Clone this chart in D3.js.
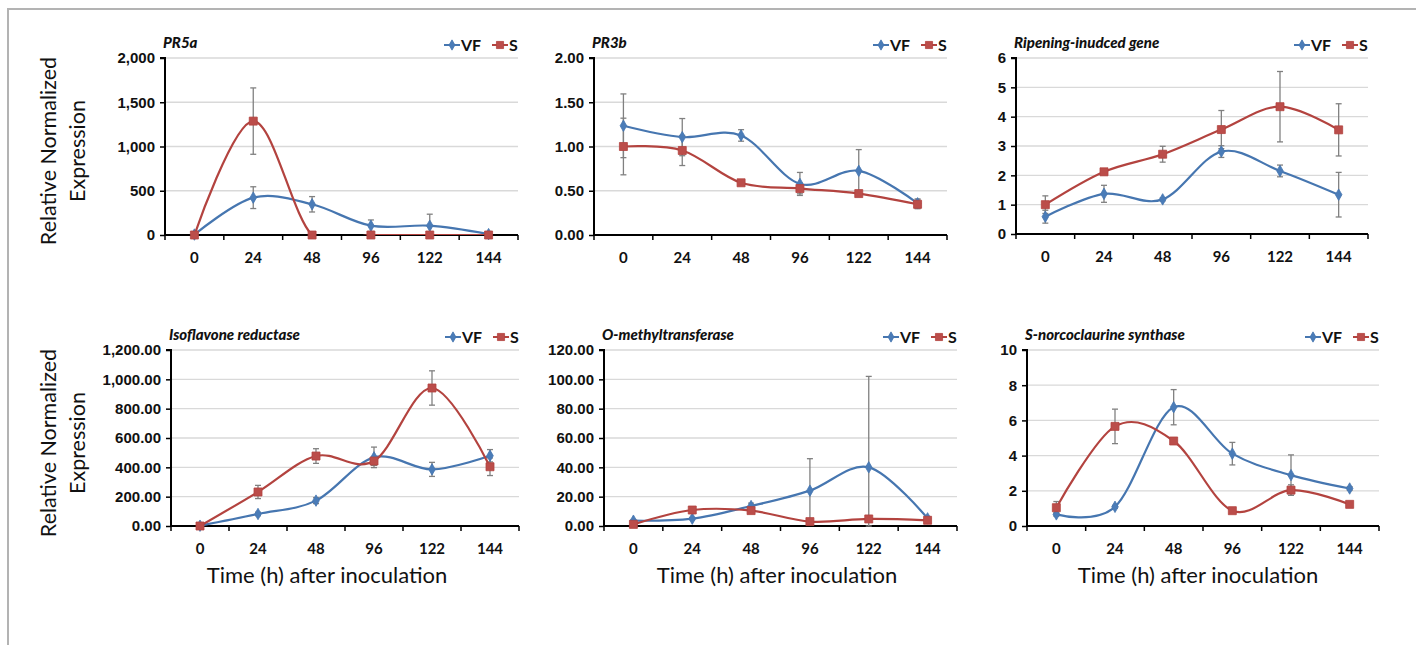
<!DOCTYPE html>
<html>
<head>
<meta charset="utf-8">
<script src="https://cdn.jsdelivr.net/npm/d3@7"></script>
<style>
  body { margin: 0; background: #fff; }
  svg { display: block; font-family: Lato, "Open Sans", sans-serif; }
</style>
</head>
<body>
<svg id="chart" width="1416" height="645"></svg>
<script>
// time points (h after inoculation)
const times = ['0', '24', '48', '96', '122', '144']
const titles = ['PR5a', 'PR3b', 'Ripening-inudced gene', 'Isoflavone reductase', 'O-methyltransferase', 'S-norcoclaurine synthase']

// VF series and its error
const vf = [
  [5, 422, 347, 105, 105, 10],
  [1.234, 1.106, 1.125, 0.577, 0.725, 0.358],
  [0.59, 1.37, 1.18, 2.81, 2.15, 1.34],
  [2, 82, 173, 468, 386, 479],
  [3.6, 5.0, 13.6, 24.1, 40.0, 5.2],
  [0.66, 1.09, 6.75, 4.11, 2.89, 2.13]
]
const vfErr = [
  [5, 123, 87, 65, 130, 8],
  [0.36, 0.21, 0.065, 0.13, 0.24, 0.05],
  [0.22, 0.29, 0.05, 0.2, 0.2, 0.76],
  [3, 12, 20, 70, 48, 42],
  [0.8, 0.8, 2, 21.8, 62, 1],
  [0.1, 0.08, 1.0, 0.64, 1.15, 0.1]
]
// S series and its error
const sv = [
  [0, 1287, 0, 0, 0, 0],
  [1.0, 0.955, 0.59, 0.525, 0.468, 0.347],
  [1.0, 2.12, 2.72, 3.56, 4.34, 3.55],
  [0, 232, 477, 443, 941, 404],
  [1.1, 10.9, 10.5, 3.0, 4.8, 3.9],
  [1.04, 5.66, 4.83, 0.87, 2.04, 1.23]
]
const sErr = [
  [2, 375, 3, 3, 3, 3],
  [0.32, 0.17, 0.03, 0.06, 0.03, 0.05],
  [0.3, 0.1, 0.27, 0.65, 1.2, 0.89],
  [3, 45, 50, 30, 117, 60],
  [0.5, 0.8, 0.8, 0.5, 0.5, 0.5],
  [0.35, 0.98, 0.1, 0.08, 0.3, 0.1]
]
// y axis max, tick step, tick format
const yMax = [2000, 2, 6, 1200, 120, 10]
const yStep = [500, 0.5, 1, 200, 20, 2]
const yFmt = [',.0f', '.2f', 'd', ',.2f', '.2f', 'd']

// plot boxes [left, right, top, bottom]
const boxes = [
  [165, 518, 58, 235], [594, 947, 58, 235], [1016, 1368, 58, 234],
  [171, 519, 350, 526], [604, 957, 350, 526], [1027, 1379, 350, 526]
]

const blue = '#4676b0', blueFill = '#4a7cb8'
const red = '#b3433f', redFill = '#bb4d4a'

const svg = d3.select('#chart')
const defs = svg.append('defs')

// outer frame (top and left)
svg.append('path')
  .attr('d', 'M8,645 L8,9 L1416,9')
  .attr('fill', 'none')
  .attr('stroke', '#b3b3b3')
  .attr('stroke-width', 2)

boxes.forEach(function (b, i) {
  const x = d3.scaleBand().domain(times).range([b[0], b[1]])
  const y = d3.scaleLinear().domain([0, yMax[i]]).range([b[3], b[2]])
  const ticks = d3.range(0, yMax[i] + yStep[i] / 2, yStep[i])
  const g = svg.append('g')

  // keep smoothed lines inside the plot
  defs.append('clipPath').attr('id', 'clip' + i)
    .append('rect').attr('x', b[0]).attr('y', b[2] - 20).attr('width', b[1] - b[0]).attr('height', b[3] - b[2] + 20)

  // gridlines
  g.selectAll('.grid').data(ticks.slice(1)).join('line')
    .attr('x1', b[0]).attr('x2', b[1])
    .attr('y1', d => y(d)).attr('y2', d => y(d))
    .attr('stroke', '#d9d9d9').attr('stroke-width', 1.3)

  // y axis
  const ya = g.append('g')
    .attr('transform', `translate(${b[0]},0)`)
    .call(d3.axisLeft(y).tickValues(ticks).tickFormat(d3.format(yFmt[i])).tickSize(5).tickPadding(5))
  ya.select('.domain').attr('stroke-width', 2).attr('d', `M-5,${b[2]}H0V${b[3]}`)
  ya.selectAll('.tick line').attr('stroke-width', 1.5)
  ya.selectAll('text').attr('font-size', 15).attr('font-weight', 700).attr('fill', '#111')

  // x axis
  const xa = g.append('g').attr('transform', `translate(0,${b[3]})`)
  xa.append('path').attr('d', `M${b[0]},0H${b[1]}`).attr('stroke', '#000').attr('stroke-width', 2)
  xa.selectAll('.xt').data(d3.range(times.length + 1)).join('line')
    .attr('x1', k => b[0] + k * x.bandwidth()).attr('x2', k => b[0] + k * x.bandwidth())
    .attr('y1', 0).attr('y2', 5).attr('stroke', '#000').attr('stroke-width', 1.5)
  xa.selectAll('.xl').data(times).join('text')
    .attr('x', d => x(d) + x.bandwidth() / 2).attr('y', 28)
    .attr('text-anchor', 'middle').attr('font-size', 15).attr('font-weight', 700).attr('fill', '#111')
    .text(d => d)

  // title
  g.append('text')
    .attr('x', b[0] - 2).attr('y', b[2] - 10)
    .attr('font-size', 15).attr('font-weight', 900).attr('font-style', 'italic').attr('fill', '#111')
    .text(titles[i])

  const cx = d => x(d) + x.bandwidth() / 2
  const line = d3.line().x((d, k) => cx(times[k])).y(d => y(d)).curve(d3.curveCardinal.tension(0))

  const series = [
    { vals: vf[i], err: vfErr[i], col: blue, fill: blueFill, shape: d3.symbolDiamond, size: 38 },
    { vals: sv[i], err: sErr[i], col: red, fill: redFill, shape: d3.symbolSquare, size: 64 }
  ]

  // error bars
  series.forEach(function (s) {
    s.vals.forEach(function (v, k) {
      const px = cx(times[k])
      const lo = y(Math.max(0, v - s.err[k])), hi = y(v + s.err[k])
      g.append('line').attr('x1', px).attr('x2', px).attr('y1', lo).attr('y2', hi)
        .attr('stroke', '#808080').attr('stroke-width', 1.3)
      ;[lo, hi].forEach(yy => g.append('line')
        .attr('x1', px - 3).attr('x2', px + 3).attr('y1', yy).attr('y2', yy)
        .attr('stroke', '#808080').attr('stroke-width', 1.3))
    })
  })

  // lines and markers
  series.forEach(function (s) {
    g.append('path').datum(s.vals).attr('d', line)
      .attr('clip-path', `url(#clip${i})`)
      .attr('fill', 'none').attr('stroke', s.col).attr('stroke-width', 2.2)
    g.selectAll(null).data(s.vals).join('path')
      .attr('transform', (d, k) => `translate(${cx(times[k])},${y(d)})`)
      .attr('d', d3.symbol().type(s.shape).size(s.size))
      .attr('fill', s.fill).attr('stroke', s.col).attr('stroke-width', 0.8)
  })

  // legend
  const lg = g.append('g').attr('transform', `translate(${b[1] - 74},${b[2] - 13})`)
  const items = [{ name: 'VF', s: series[0], dx: 0 }, { name: 'S', s: series[1], dx: 48 }]
  items.forEach(function (it) {
    lg.append('line').attr('x1', it.dx).attr('x2', it.dx + 16).attr('y1', 0).attr('y2', 0)
      .attr('stroke', it.s.col).attr('stroke-width', 2)
    lg.append('path').attr('transform', `translate(${it.dx + 8},0)`)
      .attr('d', d3.symbol().type(it.s.shape).size(it.s.size * 0.8))
      .attr('fill', it.s.fill).attr('stroke', it.s.col).attr('stroke-width', 0.8)
    lg.append('text').attr('x', it.dx + 17).attr('y', 6)
      .attr('font-size', 16).attr('font-weight', 700).attr('fill', '#111').text(it.name)
  })
})

// shared axis titles
;[151, 443].forEach(function (cy) {
  const t = svg.append('text')
    .attr('transform', `translate(56,${cy}) rotate(-90)`)
    .attr('text-anchor', 'middle').attr('font-size', 21.5).attr('fill', '#111')
  t.append('tspan').attr('x', 0).attr('dy', 0).text('Relative Normalized')
  t.append('tspan').attr('x', 0).attr('dy', 29).text('Expression')
})
;[[327, 583], [777, 583], [1198, 583]].forEach(function (p) {
  svg.append('text').attr('x', p[0]).attr('y', p[1])
    .attr('text-anchor', 'middle').attr('font-size', 22).attr('fill', '#111')
    .text('Time (h) after inoculation')
})
</script>
</body>
</html>
